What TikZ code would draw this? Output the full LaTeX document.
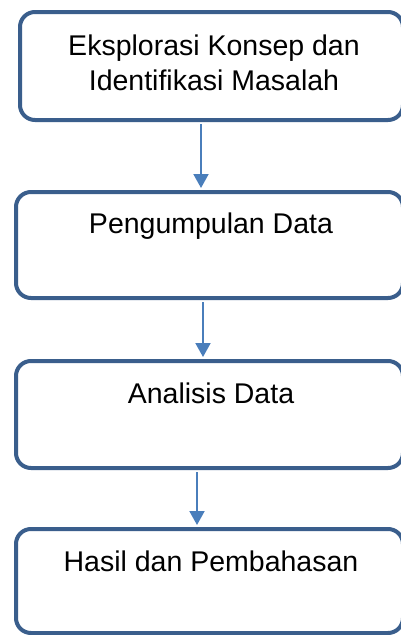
\documentclass[tikz,border=0pt]{standalone}
\usepackage{fontspec}
\setmainfont{Liberation Sans}
\usetikzlibrary{arrows.meta}
\definecolor{boxline}{HTML}{3A5E8C}
\definecolor{arrowc}{HTML}{4A7EBB}
\begin{document}
\begin{tikzpicture}[x=1pt,y=-1pt,
  box/.style={draw=boxline,line width=4pt,rounded corners=15pt,minimum width=#1,inner sep=0pt},
  lbl/.style={font=\fontsize{28.5pt}{35pt}\selectfont,inner sep=0pt,align=center,text=black},
  conn/.style={draw=arrowc,line width=2pt,-{Triangle[length=14pt,width=15pt]}}]
\useasboundingbox[fill=white] (0,0) rectangle (401,635);
\node[box=383pt,minimum height=108pt] (b1) at (211.5,66) {};
\node[box=387pt,minimum height=106pt] (b2) at (209.5,245) {};
\node[box=387pt,minimum height=107pt] (b3) at (209.5,414.5) {};
\node[box=387pt,minimum height=104pt] (b4) at (209.5,581) {};
\node[lbl,anchor=base] (t1a) at (214,55) {Eksplorasi Konsep dan};
\node[lbl,anchor=base] (t1b) at (214,90) {Identifikasi Masalah};
\node[lbl,anchor=base] (t2) at (211,233) {Pengumpulan Data};
\node[lbl,anchor=base] (t3) at (211,403) {Analisis Data};
\node[lbl,anchor=base] (t4) at (211,571) {Hasil dan Pembahasan};
\coordinate (x1) at (201,0);
\coordinate (x2) at (203,0);
\coordinate (x3) at (197,0);
\draw[conn] ([yshift=-2pt]b1.south -| x1) -- ([yshift=2pt]b2.north -| x1);
\draw[conn] ([yshift=-2pt]b2.south -| x2) -- ([yshift=2pt]b3.north -| x2);
\draw[conn] ([yshift=-2pt]b3.south -| x3) -- ([yshift=2pt]b4.north -| x3);
\end{tikzpicture}
\end{document}
